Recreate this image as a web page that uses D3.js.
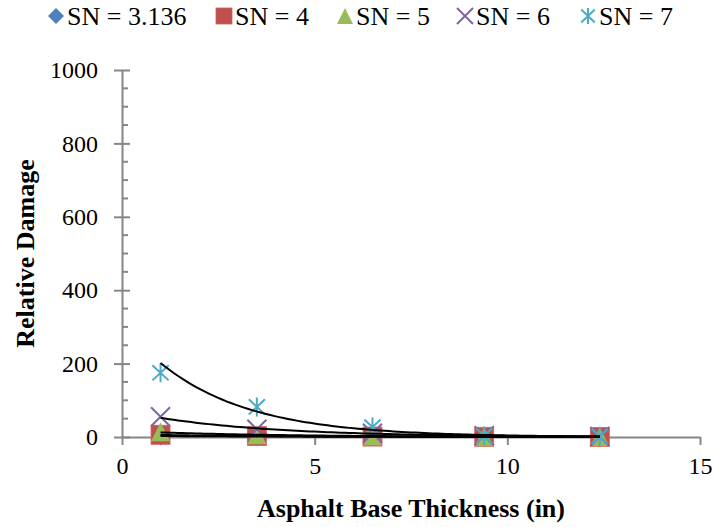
<!DOCTYPE html>
<html>
<head>
<meta charset="utf-8">
<script src="https://cdn.jsdelivr.net/npm/d3@7"></script>
<style>
  html, body { margin: 0; padding: 0; background: #fff; }
  svg { display: block; }
</style>
</head>
<body>
<svg id="chart" width="714" height="527"></svg>
<script>
// Asphalt base thickness (in) for each design case
const thickness = [1, 3.5, 6.5, 9.4, 12.4];

// Relative damage for each structural number
const seriesNames = ["SN = 3.136", "SN = 4", "SN = 5", "SN = 6", "SN = 7"];
const damageSN3136 = [3, 1.3, 0.6, 0.3, 0.15];
const damageSN4 = [6, 2.5, 1.2, 0.5, 0.25];
const damageSN5 = [14, 6, 2.5, 1, 0.6];
const damageSN6 = [55, 21, 10, 3.5, 1.4];
const damageSN7 = [175, 82, 27, 3, 2];

const xTicks = [0, 5, 10, 15];
const yTicks = [0, 200, 400, 600, 800, 1000];
const yMinorTicks = d3.range(0, 1001, 50);

const colors = ["#4F81BD", "#C0504D", "#9BBB59", "#8064A2", "#4BACC6"];
const shapes = ["diamond", "square", "triangle", "x", "star"];
const FONT = "'Liberation Serif', 'Times New Roman', Times, serif";

const series = [damageSN3136, damageSN4, damageSN5, damageSN6, damageSN7].map((vals, i) => ({
  name: seriesNames[i],
  color: colors[i],
  shape: shapes[i],
  points: vals.map((v, j) => ({ x: thickness[j], y: v }))
}));

const svg = d3.select("#chart").attr("font-family", FONT);
const x = d3.scaleLinear().domain([0, 15]).range([122, 700]);
const y = d3.scaleLinear().domain([0, 1000]).range([437, 70]);
const axisColor = "#868686";

// Marker shapes, centred at (0,0) with box size s
function drawMarker(g, shape, color, s) {
  const h = s / 2;
  if (shape === "diamond") {
    g.append("path").attr("d", `M0,${-h}L${h},0L0,${h}L${-h},0Z`).attr("fill", color);
  } else if (shape === "square") {
    g.append("rect").attr("x", -h).attr("y", -h).attr("width", s).attr("height", s)
      .attr("fill", color).attr("stroke", d3.color(color).brighter(0.4)).attr("stroke-width", 0.8);
  } else if (shape === "triangle") {
    g.append("path").attr("d", `M0,${-h}L${h},${h}L${-h},${h}Z`).attr("fill", color);
  } else if (shape === "x") {
    g.append("path").attr("d", `M${-h},${-h}L${h},${h}M${-h},${h}L${h},${-h}`)
      .attr("stroke", color).attr("stroke-width", 2).attr("fill", "none");
  } else if (shape === "star") {
    g.append("path").attr("d", `M${-h * 0.85},${-h * 0.8}L${h * 0.85},${h * 0.8}M${-h * 0.85},${h * 0.8}L${h * 0.85},${-h * 0.8}M0,${-h}L0,${h}`)
      .attr("stroke", color).attr("stroke-width", 2).attr("fill", "none");
  }
}

// Y axis: major ticks cross the line, minor ticks point inward
const yAxis = svg.append("g").attr("transform", `translate(${x(0)},0)`)
  .call(d3.axisLeft(y).tickValues(yTicks).tickSizeInner(8).tickSizeOuter(0).tickPadding(16).tickFormat(d3.format("d")));
yAxis.attr("font-family", FONT).attr("font-size", 24);
yAxis.select(".domain").attr("stroke", axisColor).attr("stroke-width", 2);
yAxis.selectAll(".tick line").attr("stroke", axisColor).attr("stroke-width", 2).attr("x1", 8);
yAxis.selectAll(".tick text").attr("fill", "#000");
yAxis.selectAll(".minor").data(yMinorTicks.filter(v => !yTicks.includes(v))).enter()
  .append("line").attr("class", "minor")
  .attr("x1", 0).attr("x2", 6).attr("y1", d => y(d)).attr("y2", d => y(d))
  .attr("stroke", axisColor).attr("stroke-width", 2);

// X axis
const xAxis = svg.append("g").attr("transform", `translate(0,${y(0)})`)
  .call(d3.axisBottom(x).tickValues(xTicks).tickSizeInner(8).tickSizeOuter(0).tickPadding(12).tickFormat(d3.format("d")));
xAxis.attr("font-family", FONT).attr("font-size", 24);
xAxis.select(".domain").attr("stroke", axisColor).attr("stroke-width", 2);
xAxis.selectAll(".tick line").attr("stroke", axisColor).attr("stroke-width", 2);
xAxis.selectAll(".tick text").attr("fill", "#000");

// Markers
series.forEach(s => {
  const g = svg.append("g");
  s.points.forEach(p => {
    const m = g.append("g").attr("transform", `translate(${x(p.x)},${y(p.y)})`);
    drawMarker(m, s.shape, s.color, 19);
  });
});

// Exponential trendlines (least squares on ln y), spanning the data range
function expFit(points) {
  const mx = d3.mean(points, p => p.x);
  const my = d3.mean(points, p => Math.log(p.y));
  let sxy = 0, sxx = 0;
  points.forEach(p => { sxy += (p.x - mx) * (Math.log(p.y) - my); sxx += (p.x - mx) ** 2; });
  const b = sxy / sxx;
  const a = Math.exp(my - b * mx);
  return t => a * Math.exp(b * t);
}
const line = d3.line().x(d => x(d[0])).y(d => y(d[1]));
series.forEach(s => {
  const f = expFit(s.points);
  const [x0, x1] = d3.extent(s.points, p => p.x);
  const samples = d3.range(0, 101).map(i => x0 + (x1 - x0) * i / 100);
  svg.append("path").attr("d", line(samples.map(t => [t, f(t)])))
    .attr("fill", "none").attr("stroke", "#000").attr("stroke-width", 2);
});

// Legend
const legendX = [56, 224, 345, 465, 588];
const legend = svg.append("g");
series.forEach((s, i) => {
  const m = legend.append("g").attr("transform", `translate(${legendX[i]},16)`);
  drawMarker(m, s.shape, s.color, 16);
  legend.append("text").attr("x", legendX[i] + 11).attr("y", 25)
    .attr("font-size", 26).attr("fill", "#000").text(s.name);
});

// Axis titles
svg.append("text").attr("x", (x(0) + x(15)) / 2).attr("y", 517)
  .attr("text-anchor", "middle").attr("font-size", 26).attr("font-weight", "bold")
  .attr("fill", "#000").text("Asphalt Base Thickness (in)");
svg.append("text").attr("transform", `translate(34,${(y(0) + y(1000)) / 2}) rotate(-90)`)
  .attr("text-anchor", "middle").attr("font-size", 26).attr("font-weight", "bold")
  .attr("fill", "#000").text("Relative Damage");
</script>
</body>
</html>
